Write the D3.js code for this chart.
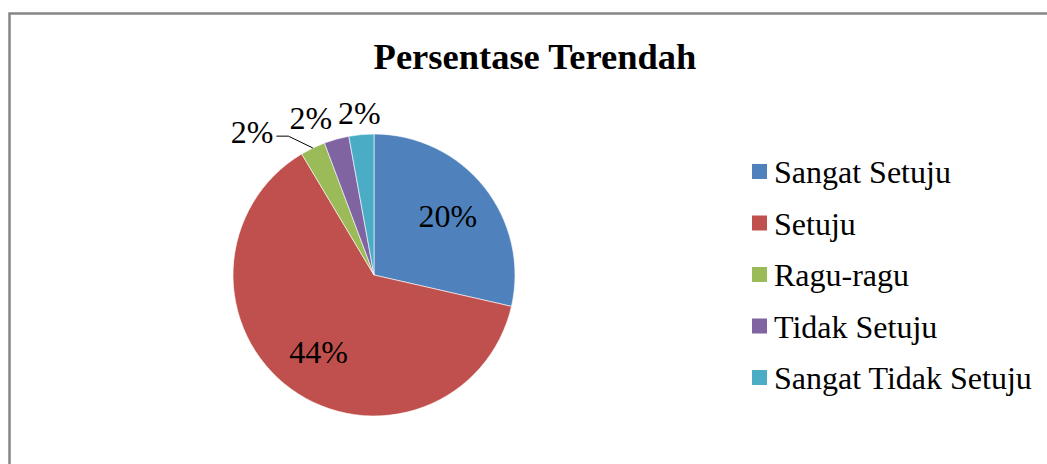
<!DOCTYPE html>
<html>
<head>
<meta charset="utf-8">
<script src="https://cdn.jsdelivr.net/npm/d3@7"></script>
<style>
  body { margin: 0; background: #fff; }
  svg { display: block; font-family: "Liberation Serif", "Times New Roman", serif; }
</style>
</head>
<body>
<div id="chart"></div>
<script>
// data
var categories = ["Sangat Setuju", "Setuju", "Ragu-ragu", "Tidak Setuju", "Sangat Tidak Setuju"];
var values = [20, 44, 2, 2, 2];
var labels = ["20%", "44%", "2%", "2%", "2%"];
var colors = ["#4F81BD", "#C0504D", "#9BBB59", "#8064A2", "#4BACC6"];

var width = 1047, height = 464;
var cx = 374, cy = 275, radius = 141;
var labelFont = 32;

var svg = d3.select("#chart").append("svg")
  .attr("width", width)
  .attr("height", height);

// frame (only top + left visible in the crop)
svg.append("path")
  .attr("d", "M9.5," + height + "V13.5H" + width)
  .attr("fill", "none")
  .attr("stroke", "#868686")
  .attr("stroke-width", 2.5);

// title
svg.append("text")
  .attr("x", 535)
  .attr("y", 69)
  .attr("text-anchor", "middle")
  .style("font-weight", "bold")
  .style("font-size", "36.5px")
  .text("Persentase Terendah");

var data = categories.map(function (c, i) {
  return { name: c, value: values[i], label: labels[i], color: colors[i] };
});

var pie = d3.pie().sort(null).value(function (d) { return d.value; });
var arcs = pie(data);

var arc = d3.arc().innerRadius(0).outerRadius(radius);
var inLabelArc = d3.arc().innerRadius(radius * 0.67).outerRadius(radius * 0.67);
var outLabelArc = d3.arc().innerRadius(radius + 22).outerRadius(radius + 22);
var edgeArc = d3.arc().innerRadius(radius).outerRadius(radius);

var g = svg.append("g").attr("transform", "translate(" + cx + "," + cy + ")");

g.selectAll("path.slice")
  .data(arcs)
  .enter()
  .append("path")
  .attr("class", "slice")
  .attr("d", arc)
  .attr("fill", function (d) { return d.data.color; })
  .attr("stroke", "#fff")
  .attr("stroke-width", 0.6);

// big slices get the label inside
arcs.forEach(function (d) {
  d.inside = (d.endAngle - d.startAngle) > 0.5;
});

g.selectAll("text.inlabel")
  .data(arcs.filter(function (d) { return d.inside; }))
  .enter()
  .append("text")
  .attr("class", "inlabel")
  .attr("transform", function (d) { return "translate(" + inLabelArc.centroid(d) + ")"; })
  .attr("text-anchor", "middle")
  .attr("dy", "0.35em")
  .style("font-size", labelFont + "px")
  .text(function (d) { return d.data.label; });

// small slices: label outside, pushed left so they don't overlap
var outs = arcs.filter(function (d) { return !d.inside; }).reverse();
var labW = labelFont * 1.333, gap = 6;
var rightLimit = Infinity;
outs.forEach(function (d) {
  var p = outLabelArc.centroid(d);
  var x = Math.min(p[0], rightLimit - gap - labW / 2);
  d.shift = p[0] - x;
  d.leader = d.shift > 30;
  if (d.leader) x -= 10; // leave room for the leader line
  d.lx = x;
  d.ly = p[1] + (d.leader ? 4 : 0);
  rightLimit = x - labW / 2;
});

g.selectAll("text.outlabel")
  .data(outs)
  .enter()
  .append("text")
  .attr("class", "outlabel")
  .attr("x", function (d) { return d.lx; })
  .attr("y", function (d) { return d.ly; })
  .attr("text-anchor", "middle")
  .attr("dy", "0.35em")
  .style("font-size", labelFont + "px")
  .text(function (d) { return d.data.label; });

// leader line for labels pushed far from their slice
g.selectAll("path.leader")
  .data(outs.filter(function (d) { return d.leader; }))
  .enter()
  .append("path")
  .attr("class", "leader")
  .attr("d", function (d) {
    var e = edgeArc.centroid(d);
    var x0 = d.lx + labW / 2 + 3;
    var y0 = d.ly + 4;
    return "M" + x0 + "," + y0 + "H" + (x0 + 12) + "L" + e[0] + "," + e[1];
  })
  .attr("fill", "none")
  .attr("stroke", "#000")
  .attr("stroke-width", 1);

// legend
var legend = svg.append("g").attr("transform", "translate(752,172)");
var item = legend.selectAll("g")
  .data(data)
  .enter()
  .append("g")
  .attr("transform", function (d, i) { return "translate(0," + (i * 51.5) + ")"; });

item.append("rect")
  .attr("x", 0)
  .attr("y", -8)
  .attr("width", 15)
  .attr("height", 15)
  .attr("fill", function (d) { return d.color; });

item.append("text")
  .attr("x", 22)
  .attr("y", 0)
  .attr("dy", "0.35em")
  .style("font-size", "32px")
  .text(function (d) { return d.name; });
</script>
</body>
</html>
